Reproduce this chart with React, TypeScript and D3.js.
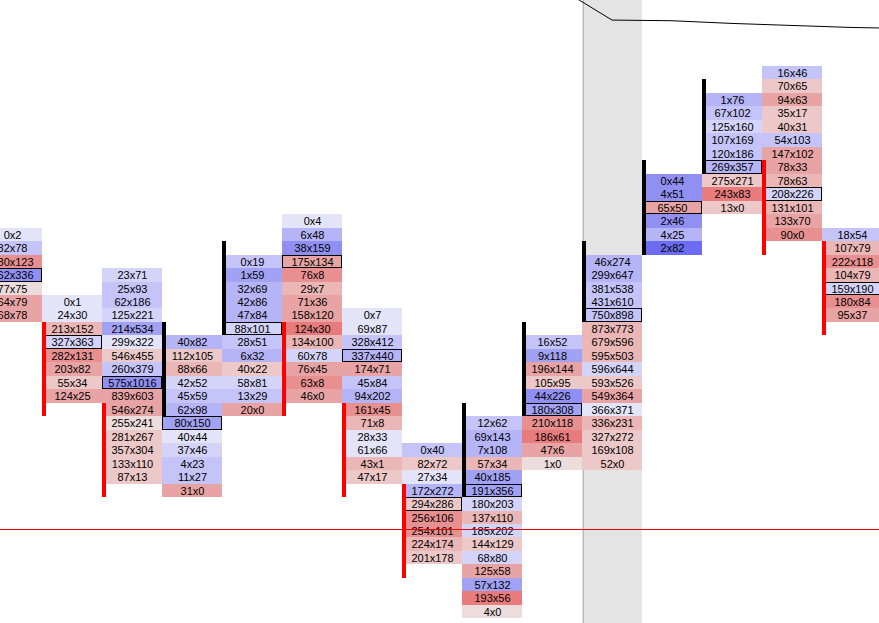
import React, { useEffect, useRef } from 'react';
import * as d3 from 'd3';

const W = 879;
const H = 623;

/* ── Data ─────────────────────────────────────────────────────────── */
// bid x ask per price row, one array per bar, listed from the top row down
const volumes: [number, number][][] = [
  [[0, 2], [82, 78], [180, 123], [262, 336], [77, 75], [64, 79], [68, 78]],
  [[0, 1], [24, 30], [213, 152], [327, 363], [282, 131], [203, 82], [55, 34], [124, 25]],
  [[23, 71], [25, 93], [62, 186], [125, 221], [214, 534], [299, 322], [546, 455], [260, 379],
   [575, 1016], [839, 603], [546, 274], [255, 241], [281, 267], [357, 304], [133, 110], [87, 13]],
  [[40, 82], [112, 105], [88, 66], [42, 52], [45, 59], [62, 98], [80, 150], [40, 44],
   [37, 46], [4, 23], [11, 27], [31, 0]],
  [[0, 19], [1, 59], [32, 69], [42, 86], [47, 84], [88, 101], [28, 51], [6, 32],
   [40, 22], [58, 81], [13, 29], [20, 0]],
  [[0, 4], [6, 48], [38, 159], [175, 134], [76, 8], [29, 7], [71, 36], [158, 120],
   [124, 30], [134, 100], [60, 78], [76, 45], [63, 8], [46, 0]],
  [[0, 7], [69, 87], [328, 412], [337, 440], [174, 71], [45, 84], [94, 202], [161, 45],
   [71, 8], [28, 33], [61, 66], [43, 1], [47, 17]],
  [[0, 40], [82, 72], [27, 34], [172, 272], [294, 286], [256, 106], [254, 101], [224, 174], [201, 178]],
  [[12, 62], [69, 143], [7, 108], [57, 34], [40, 185], [191, 356], [180, 203], [137, 110],
   [185, 202], [144, 129], [68, 80], [125, 58], [57, 132], [193, 56], [4, 0]],
  [[16, 52], [9, 118], [196, 144], [105, 95], [44, 226], [180, 308], [210, 118], [186, 61], [47, 6], [1, 0]],
  [[46, 274], [299, 647], [381, 538], [431, 610], [750, 898], [873, 773], [679, 596], [595, 503],
   [596, 644], [593, 526], [549, 364], [366, 371], [336, 231], [327, 272], [169, 108], [52, 0]],
  [[0, 44], [4, 51], [65, 50], [2, 46], [4, 25], [2, 82]],
  [[1, 76], [67, 102], [125, 160], [107, 169], [120, 186], [269, 357], [275, 271], [243, 83], [13, 0]],
  [[16, 46], [70, 65], [94, 63], [35, 17], [40, 31], [54, 103], [147, 102], [78, 33],
   [78, 63], [208, 226], [131, 101], [133, 70], [90, 0]],
  [[18, 54], [107, 79], [222, 118], [104, 79], [159, 190], [180, 84], [95, 37]],
];

// imbalance shade per row: + = blue (ask side), - = red (bid side), 1..7 = strength
const shades: number[][] = [
  [1, 3, -5, 6, -1, -4, -4],
  [1, 1, -3, 2, -5, -4, -2, -4],
  [2, 3, 3, 2, 5, 1, -2, 3, 6, -4, -4, -1, -2, -2, -2, -2],
  [4, -2, -3, 2, 3, 4, 5, 1, 2, 3, 3, -4],
  [3, 5, 4, 4, 4, 2, 3, 4, -2, 2, 3, -4],
  [1, 4, 6, -4, -5, -3, -4, -4, -6, -3, 2, -4, -5, -4],
  [1, 1, 3, 4, -4, 3, 4, -5, -3, 1, 1, -3, -2],
  [3, -2, 1, 4, -2, -5, -5, -3, -2],
  [3, 4, 4, -3, 5, 5, 2, -3, 2, -2, 2, -4, 5, -6, -1],
  [3, 5, -4, -2, 6, 5, -5, -6, -4, -1],
  [4, 4, 3, 3, 3, -3, -3, -3, 2, -2, -4, 1, -3, -2, -2, -2],
  [6, 6, -4, 6, 4, 7],
  [4, 3, 2, 3, 3, 4, -2, -6, -2],
  [3, -2, -4, -2, -2, 3, -4, -4, -3, 2, -3, -4, -5],
  [3, -3, -5, -3, 2, -5, -4],
];

// first (highest) price row of each bar, counted in ticks from the top of the view
const topRow = [12, 17, 15, 20, 14, 11, 18, 28, 26, 20, 14, 8, 2, 0, 12];
// open/close body of each bar, in ticks
const bodyFrom = [13, 19, 25, 19, 13, 19, 25, 31, 25, 19, 13, 7, 1, 7, 13];
const bodyTo = [20, 26, 32, 26, 20, 26, 32, 38, 32, 26, 18.9, 14, 8, 14, 20];
const bodyUp = [false, false, false, true, true, false, false, false, true, true, true, true, true, false, false];

// moving line (bar index, ticks)
const lineBars = [9, 10, 11, 12, 13, 14, 15];
const lineVals = [-6.13, -3.41, -3.36, -3.16, -3.01, -2.86, -2.78];

const lastPrice = 34.4;
const selectedBar = 10;

/* ── Styles ───────────────────────────────────────────────────────── */
const BLUES = ['#e4e4f8', '#d4d4f8', '#c4c4f8', '#b4b4f6', '#a2a2f4', '#9090f2', '#6c6cf2'];
const REDS = ['#ecdcdc', '#ecc8c8', '#eab6b6', '#e8a4a4', '#e89090', '#e87c7c', '#e86a6a'];
const shadeColor = (s: number) => (s >= 0 ? BLUES[Math.max(0, s - 1)] : REDS[-s - 1]);

export default function App() {
  const svgRef = useRef<SVGSVGElement>(null);

  useEffect(() => {
    if (!svgRef.current) return;
    const svg = d3.select(svgRef.current);
    svg.selectAll('*').remove();

    const colW = 60;
    const x = d3.scaleLinear().domain([0, 1]).range([-18, -18 + colW]);
    const y = d3.scaleLinear().domain([0, 41]).range([66, 66 + 41 * 13.47]);
    const yr = (v: number) => Math.round(y(v));

    svg.append('rect').attr('width', W).attr('height', H).attr('fill', '#fff');

    // selected bar band
    svg.append('rect')
      .attr('x', x(selectedBar)).attr('y', 0)
      .attr('width', colW).attr('height', H)
      .attr('fill', '#e4e4e4');
    svg.append('line')
      .attr('x1', x(selectedBar) + 1.5).attr('x2', x(selectedBar) + 1.5)
      .attr('y1', 0).attr('y2', H)
      .attr('stroke', '#b8b8b8').attr('stroke-width', 1);

    // cells
    volumes.forEach((rows, ci) => {
      const g = svg.append('g');
      const poc = d3.maxIndex(rows, d => d[0] + d[1]);
      rows.forEach(([bid, ask], ri) => {
        const lv = topRow[ci] + ri;
        const y0 = yr(lv);
        const y1 = yr(lv + 1);
        g.append('rect')
          .attr('x', x(ci)).attr('y', y0)
          .attr('width', colW).attr('height', y1 - y0)
          .attr('fill', shadeColor(shades[ci][ri]))
          .attr('shape-rendering', 'crispEdges');
        g.append('text')
          .attr('x', x(ci) + colW / 2 + 0.5)
          .attr('y', (y0 + y1) / 2 + 4)
          .attr('text-anchor', 'middle')
          .attr('font-family', '"Liberation Sans", Arial, sans-serif')
          .attr('font-size', 11)
          .attr('fill', '#000')
          .text(`${bid}x${ask}`);
        if (ri === poc) {
          g.append('rect')
            .attr('x', x(ci) + 0.5).attr('y', y0 + 0.5)
            .attr('width', colW - 1).attr('height', y1 - y0 - 1)
            .attr('fill', 'none')
            .attr('stroke', '#000').attr('stroke-width', 1);
        }
      });
    });

    // open/close bodies
    bodyFrom.forEach((f, ci) => {
      svg.append('rect')
        .attr('x', x(ci)).attr('y', yr(f))
        .attr('width', 4).attr('height', yr(bodyTo[ci]) - yr(f))
        .attr('fill', bodyUp[ci] ? '#000' : '#ff0000')
        .attr('shape-rendering', 'crispEdges');
    });

    // last price line
    svg.append('line')
      .attr('x1', 0).attr('x2', W)
      .attr('y1', Math.round(y(lastPrice)) + 0.5).attr('y2', Math.round(y(lastPrice)) + 0.5)
      .attr('stroke', '#e00000').attr('stroke-width', 1);

    // moving line
    const line = d3.line<number>()
      .x((_, i) => x(lineBars[i]) + colW / 2)
      .y(d => y(d));
    svg.append('path')
      .attr('d', line(lineVals))
      .attr('fill', 'none')
      .attr('stroke', '#000').attr('stroke-width', 1);
  }, []);

  return (
    <svg
      ref={svgRef}
      width={W}
      height={H}
      style={{ position: 'absolute', left: 0, top: 0, display: 'block' }}
    />
  );
}
